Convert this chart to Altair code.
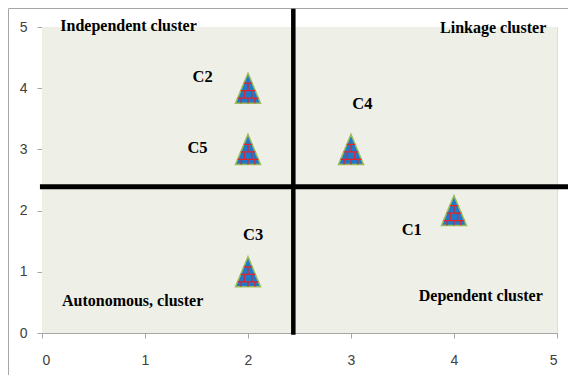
import altair as alt
import pandas as pd

# --- data ---
cluster_ids = ["C1", "C2", "C3", "C4", "C5"]
x_vals = [4, 2, 2, 3, 2]
y_vals = [2, 4, 1, 3, 3]
label_x = [3.59, 1.56, 2.05, 3.11, 1.51]
label_y = [1.68, 4.18, 1.60, 3.74, 3.02]

quadrant_names = ["Independent cluster", "Linkage cluster", "Autonomous, cluster", "Dependent cluster"]
quadrant_x = [0.84, 4.38, 0.88, 4.26]
quadrant_y = [5.02, 4.99, 0.53, 0.61]

divider_x = 2.44
divider_y = 2.39
vline_y_range = [-0.03, 5.3]
hline_x_range = [-0.02, 5.2]

ticks = [0, 1, 2, 3, 4, 5]
area_x = [0, 5]
area_y = [0, 5]

points = pd.DataFrame({"id": cluster_ids, "x": x_vals, "y": y_vals, "lx": label_x, "ly": label_y})
quads = pd.DataFrame({"name": quadrant_names, "x": quadrant_x, "y": quadrant_y})
vline = pd.DataFrame({"x": [divider_x], "y": [vline_y_range[0]], "y2": [vline_y_range[1]]})
hline = pd.DataFrame({"y": [divider_y], "x": [hline_x_range[0]], "x2": [hline_x_range[1]]})
area = pd.DataFrame({"x": [area_x[0]], "x2": [area_x[1]], "y": [area_y[0]], "y2": [area_y[1]]})

W, H = 515, 306

xscale = alt.Scale(domain=[0, 5], nice=False, zero=False)
yscale = alt.Scale(domain=[0, 5], nice=False, zero=False)

xaxis = alt.Axis(values=ticks, grid=False, domainColor="#A6A6A6", tickColor="#A6A6A6",
                 tickSize=5, labelPadding=15, labelFont="Liberation Sans", labelFontSize=14,
                 labelColor="#404040", title=None, format="d")
yaxis = alt.Axis(values=ticks, grid=False, domainColor="#A6A6A6", tickColor="#A6A6A6",
                 tickSize=5, labelPadding=10, labelFont="Liberation Sans", labelFontSize=14,
                 labelColor="#404040", title=None, format="d")

bg = alt.Chart(area).mark_rect(fill="#EEF0E8", stroke=None).encode(
    x=alt.X("x:Q", scale=xscale, axis=xaxis), x2="x2:Q",
    y=alt.Y("y:Q", scale=yscale, axis=yaxis), y2="y2:Q")

base = alt.Chart(points)

tri = base.mark_point(
    shape="M0,-1.2L-1,1.2L1,1.2Z", size=625, filled=True, fill="#1F78C8",
    stroke="#9BBB59", strokeWidth=1.5, opacity=1
).encode(x=alt.X("x:Q", scale=xscale), y=alt.Y("y:Q", scale=yscale))

bricks = base.mark_point(
    shape=("M-0.33,-0.4L0.33,-0.4M-0.58,0.2L0.58,0.2M-0.83,0.8L0.83,0.8"
           "M0,-0.4L0,0.2M-0.3,0.2L-0.3,0.8M0.3,0.2L0.3,0.8M-0.55,0.8L-0.55,1.2M0,0.8L0,1.2M0.55,0.8L0.55,1.2"),
    size=625, filled=False, stroke="#E8202A", strokeWidth=1.2, opacity=1
).encode(x=alt.X("x:Q", scale=xscale), y=alt.Y("y:Q", scale=yscale))

labels = base.mark_text(font="Liberation Serif", fontWeight="bold", fontSize=16.5, color="#000000").encode(
    x=alt.X("lx:Q", scale=xscale), y=alt.Y("ly:Q", scale=yscale), text="id:N")

qlabels = alt.Chart(quads).mark_text(font="Liberation Serif", fontWeight="bold", fontSize=16,
                                     color="#000000").encode(
    x=alt.X("x:Q", scale=xscale), y=alt.Y("y:Q", scale=yscale), text="name:N")

vrule = alt.Chart(vline).mark_rule(color="#000000", strokeWidth=4.5, clip=False).encode(
    x=alt.X("x:Q", scale=xscale), y=alt.Y("y:Q", scale=yscale), y2="y2:Q")
hrule = alt.Chart(hline).mark_rule(color="#000000", strokeWidth=5, clip=False).encode(
    y=alt.Y("y:Q", scale=yscale), x=alt.X("x:Q", scale=xscale), x2="x2:Q")

frame = alt.Chart(pd.DataFrame({"a": [0]})).mark_rule(color="#A6A6A6", strokeWidth=1, clip=False).encode(
    x=alt.value(-33.5), x2=alt.value(-33.5), y=alt.value(-18.5), y2=alt.value(H + 60))
frame_top = alt.Chart(pd.DataFrame({"a": [0]})).mark_rule(color="#A6A6A6", strokeWidth=1, clip=False).encode(
    x=alt.value(-33.5), x2=alt.value(W + 40), y=alt.value(-18.5), y2=alt.value(-18.5))

chart = alt.layer(bg, frame, frame_top, tri, bricks, labels, qlabels, vrule, hrule).properties(
    width=W, height=H,
    autosize=alt.AutoSizeParams(type="none"),
    padding={"left": 34, "top": 19, "right": 11, "bottom": 42},
).configure_view(stroke=None).configure(background="white")

chart.save("out.html", embed_options={"renderer": "svg", "actions": False})
